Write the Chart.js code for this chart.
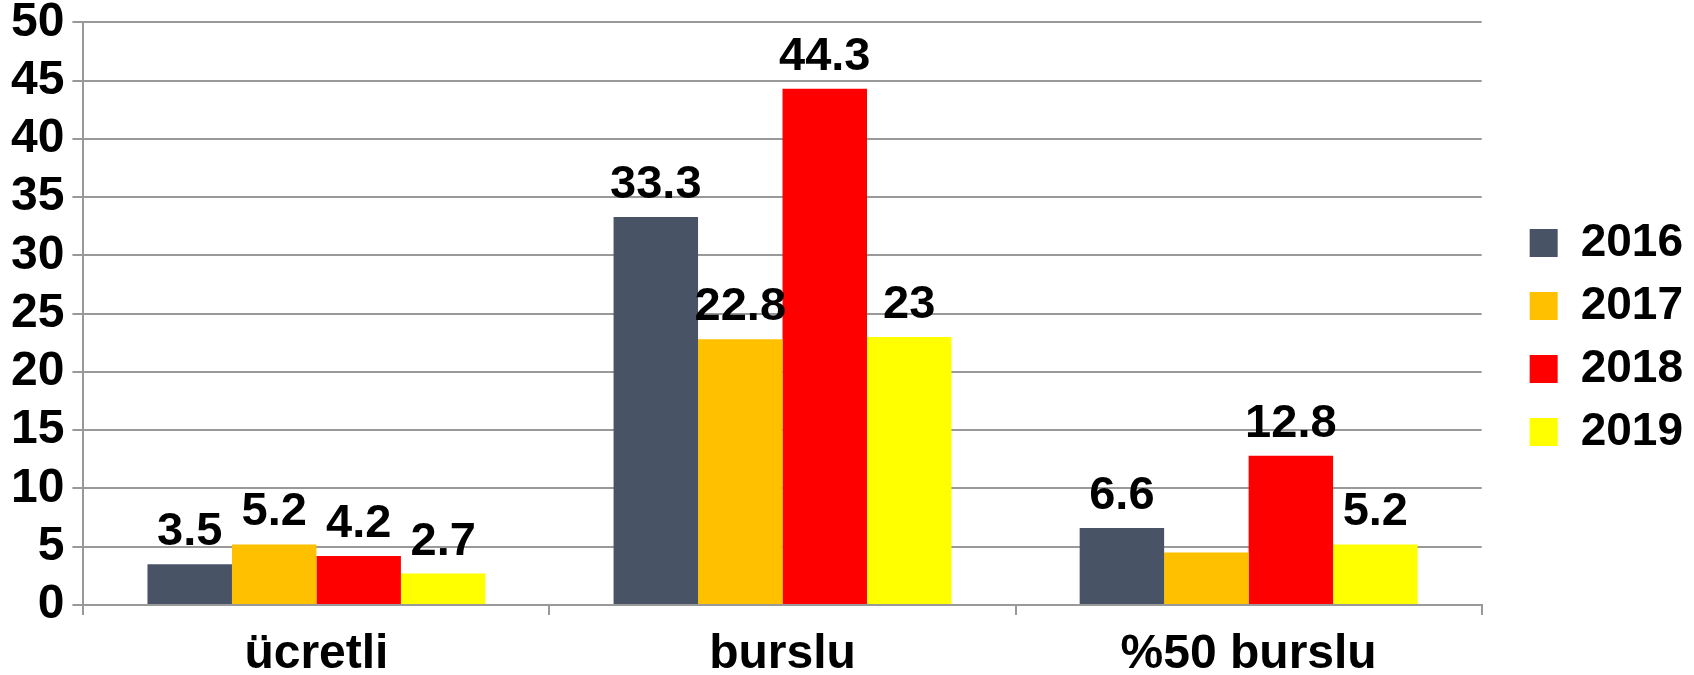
<!DOCTYPE html>
<html>
<head>
<meta charset="utf-8">
<script src="https://cdn.jsdelivr.net/npm/chart.js@4/dist/chart.umd.min.js"></script>
<style>
  html, body { margin: 0; padding: 0; background: #fff; }
  #wrap { width: 1694px; height: 675px; }
</style>
</head>
<body>
<div id="wrap"><canvas id="chart"></canvas></div>
<script>
const categories = ['ücretli', 'burslu', '%50 burslu']
const years = ['2016', '2017', '2018', '2019']
const v2016 = [3.5, 33.3, 6.6]
const v2017 = [5.2, 22.8, 4.5]
const v2018 = [4.2, 44.3, 12.8]
const v2019 = [2.7, 23, 5.2]
// the 2017 bar of "%50 burslu" carries no label in the picture
const hiddenLabels = [[1, 2]]
const colors = ['#485466', '#ffc000', '#ff0000', '#ffff00']

const FONT = '"Liberation Sans", Arial, sans-serif'
const gridColor = '#999999'

const valueLabels = {
  id: 'valueLabels',
  afterDatasetsDraw(chart) {
    const ctx = chart.ctx
    ctx.save()
    ctx.font = 'bold 47px ' + FONT
    ctx.fillStyle = '#000'
    ctx.textAlign = 'center'
    ctx.textBaseline = 'alphabetic'
    chart.data.datasets.forEach((ds, i) => {
      chart.getDatasetMeta(i).data.forEach((bar, j) => {
        if (hiddenLabels.some(h => h[0] === i && h[1] === j)) return
        ctx.fillText(String(ds.data[j]), bar.x, bar.y - 19)
      })
    })
    ctx.restore()
  }
}

// push the legend a little further from the plot
const legendGap = {
  id: 'legendGap',
  afterInit(chart) {
    const lg = chart.legend
    const fit = lg.fit.bind(lg)
    lg.fit = function () { fit(); this.width += 32 }
    const draw = lg.draw.bind(lg)
    lg.draw = function () {
      chart.ctx.save()
      chart.ctx.translate(31, 0)
      draw()
      chart.ctx.restore()
    }
  }
}

const series = [v2016, v2017, v2018, v2019]

new Chart(document.getElementById('chart'), {
  type: 'bar',
  data: {
    labels: categories,
    datasets: series.map((d, i) => ({
      label: years[i],
      data: d,
      backgroundColor: colors[i],
      categoryPercentage: 0.725,
      barPercentage: 1,
    })),
  },
  options: {
    responsive: true,
    maintainAspectRatio: false,
    animation: false,
    layout: { padding: { left: 3, top: 0, right: 0, bottom: 0 } },
    plugins: {
      legend: {
        position: 'right',
        labels: {
          boxWidth: 28,
          boxHeight: 28,
          padding: 17,
          color: '#000',
          font: { family: FONT, size: 46, weight: 'bold' },
        },
      },
      tooltip: { enabled: false },
    },
    scales: {
      x: {
        afterFit(scale) { scale.height = 70 },
        grid: { drawOnChartArea: false, color: gridColor, lineWidth: 2, tickLength: 10 },
        border: { color: gridColor, width: 2 },
        ticks: { color: '#000', padding: 16, font: { family: FONT, size: 48, weight: 'bold', lineHeight: 1 } },
      },
      y: {
        min: 0,
        max: 50,
        ticks: { stepSize: 5, color: '#000', padding: 8, font: { family: FONT, size: 48, weight: 'bold', lineHeight: 0.6 } },
        grid: { color: gridColor, lineWidth: 2, tickLength: 11 },
        border: { color: gridColor, width: 2 },
      },
    },
  },
  plugins: [valueLabels, legendGap],
})
</script>
</body>
</html>
